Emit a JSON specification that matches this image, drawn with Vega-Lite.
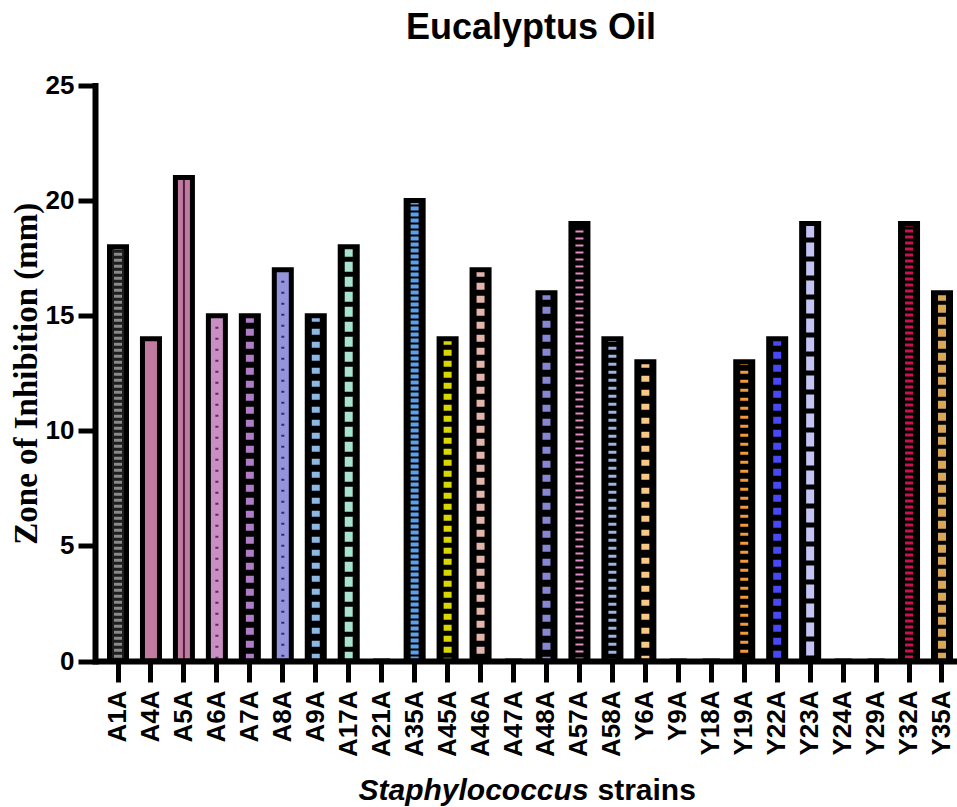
{
  "$schema": "https://vega.github.io/schema/vega-lite/v6.json",
  "autosize": {"type": "none"},
  "width": 862,
  "height": 575.5,
  "padding": {"left": 95, "top": 85.5, "right": 0, "bottom": 146},
  "background": "white",
  "title": {
    "text": "Eucalyptus Oil",
    "font": "Liberation Sans",
    "fontSize": 36,
    "fontWeight": "bold",
    "color": "black",
    "anchor": "middle",
    "frame": "group",
    "baseline": "alphabetic",
    "offset": -2,
    "dx": 5
  },
  "config": {
    "view": {"stroke": null},
    "axis": {"grid": false}
  },
  "data": {
    "values": [
      {"strain": "A1A", "zone": 18},
      {"strain": "A4A", "zone": 14},
      {"strain": "A5A", "zone": 21},
      {"strain": "A6A", "zone": 15},
      {"strain": "A7A", "zone": 15},
      {"strain": "A8A", "zone": 17},
      {"strain": "A9A", "zone": 15},
      {"strain": "A17A", "zone": 18},
      {"strain": "A21A", "zone": 0},
      {"strain": "A35A", "zone": 20},
      {"strain": "A45A", "zone": 14},
      {"strain": "A46A", "zone": 17},
      {"strain": "A47A", "zone": 0},
      {"strain": "A48A", "zone": 16},
      {"strain": "A57A", "zone": 19},
      {"strain": "A58A", "zone": 14},
      {"strain": "Y6A", "zone": 13},
      {"strain": "Y9A", "zone": 0},
      {"strain": "Y18A", "zone": 0},
      {"strain": "Y19A", "zone": 13},
      {"strain": "Y22A", "zone": 14},
      {"strain": "Y23A", "zone": 19},
      {"strain": "Y24A", "zone": 0},
      {"strain": "Y29A", "zone": 0},
      {"strain": "Y32A", "zone": 19},
      {"strain": "Y35A", "zone": 16}
    ]
  },
  "encoding": {
    "y": {
      "field": "zone",
      "type": "quantitative",
      "scale": {"domain": [0, 25], "nice": false},
      "axis": {
        "title": "Zone of Inhibition (mm)",
        "titleFont": "Liberation Serif",
        "titleFontSize": 33,
        "titleFontWeight": "bold",
        "titleColor": "black",
        "titlePadding": 2,
        "values": [0, 5, 10, 15, 20, 25],
        "labelFont": "Liberation Sans",
        "labelFontSize": 26,
        "labelFontWeight": "bold",
        "labelColor": "black",
        "labelPadding": 4,
        "domainColor": "black",
        "domainWidth": 6,
        "domainCap": "square",
        "tickColor": "black",
        "tickWidth": 5,
        "tickSize": 17,
        "zindex": 1
      }
    }
  },
  "layer": [
    {
      "mark": {"type": "bar", "strokeWidth": 0},
      "encoding": {
        "x": {
          "field": "strain",
          "type": "nominal",
          "sort": null,
          "scale": {"range": [0, 870], "paddingInner": 0.484, "paddingOuter": 0.44},
          "axis": {
            "orient": "bottom",
            "title": "Staphylococcus",
            "titleFont": "Liberation Sans",
            "titleFontSize": 30,
            "titleFontWeight": "bold",
            "titleFontStyle": "italic",
            "titleColor": "black",
            "titleAlign": "left",
            "titleBaseline": "alphabetic",
            "titleX": 263,
            "titleY": 138,
            "labelAngle": -90,
            "labelFont": "Liberation Sans",
            "labelFontSize": 26,
            "labelFontWeight": "bold",
            "labelColor": "black",
            "labelPadding": 8,
            "domainColor": "black",
            "domainWidth": 6,
            "tickColor": "black",
            "tickWidth": 5,
            "tickSize": 21,
            "zindex": 1
          }
        },
        "fill": {
          "field": "strain",
          "type": "nominal",
          "legend": null,
          "scale": {
            "domain": ["A1A", "A4A", "A5A", "A6A", "A7A", "A8A", "A9A", "A17A", "A21A", "A35A", "A45A", "A46A", "A47A", "A48A", "A57A", "A58A", "Y6A", "Y9A", "Y18A", "Y19A", "Y22A", "Y23A", "Y24A", "Y29A", "Y32A", "Y35A"],
            "range": ["#1e1e1e", "#c27ba0", "#c27ba0", "#c98ec4", "#000000", "#9494dc", "#000000", "#000000", "#ffffff", "#000000", "#000000", "#000000", "#ffffff", "#000000", "#000000", "#000000", "#000000", "#ffffff", "#ffffff", "#000000", "#000000", "#000000", "#ffffff", "#ffffff", "#000000", "#000000"]
          }
        }
      }
    },
    {
      "mark": {"type": "rule"},
      "encoding": {
        "x": {"field": "strain", "type": "nominal", "sort": null, "axis": null},
        "y2": {"datum": 0},
        "stroke": {
          "field": "strain",
          "type": "nominal",
          "legend": null,
          "scale": {
            "domain": ["A1A", "A4A", "A5A", "A6A", "A7A", "A8A", "A9A", "A17A", "A21A", "A35A", "A45A", "A46A", "A47A", "A48A", "A57A", "A58A", "Y6A", "Y9A", "Y18A", "Y19A", "Y22A", "Y23A", "Y24A", "Y29A", "Y32A", "Y35A"],
            "range": ["#8a8a8a", "#c27ba0", "#4a1e3c", "#5e2a58", "#b07cc6", "#2e2e70", "#8cb8e4", "#a8e2d0", "#ffffff", "#5aa0ea", "#d8d800", "#e2b4aa", "#ffffff", "#8686d4", "#e48cc8", "#9ab4e4", "#f8c888", "#ffffff", "#ffffff", "#f49a3a", "#4848f4", "#c4c4f4", "#ffffff", "#ffffff", "#cc1050", "#d8a858"]
          }
        },
        "size": {
          "field": "strain",
          "type": "nominal",
          "legend": null,
          "scale": {
            "type": "ordinal",
            "domain": ["A1A", "A4A", "A5A", "A6A", "A7A", "A8A", "A9A", "A17A", "A21A", "A35A", "A45A", "A46A", "A47A", "A48A", "A57A", "A58A", "Y6A", "Y9A", "Y18A", "Y19A", "Y22A", "Y23A", "Y24A", "Y29A", "Y32A", "Y35A"],
            "range": [8, 8, 2, 3, 8, 3, 8, 8, 8, 8, 8, 8, 8, 8, 8, 8, 8, 8, 8, 8, 8, 8, 8, 8, 8, 8]
          }
        },
        "strokeDash": {
          "field": "strain",
          "type": "nominal",
          "legend": null,
          "scale": {
            "domain": ["A1A", "A4A", "A5A", "A6A", "A7A", "A8A", "A9A", "A17A", "A21A", "A35A", "A45A", "A46A", "A47A", "A48A", "A57A", "A58A", "Y6A", "Y9A", "Y18A", "Y19A", "Y22A", "Y23A", "Y24A", "Y29A", "Y32A", "Y35A"],
            "range": [[3, 3], [1, 0], [1, 0], [2, 9], [7, 6], [2, 9], [6, 7], [10, 5], [1, 0], [4, 2], [6, 5], [7, 6], [1, 0], [7, 7], [2, 5], [3, 5], [6, 8], [1, 0], [1, 0], [3, 6], [7, 6], [14, 5], [1, 0], [1, 0], [3, 3], [8, 4]]
          }
        }
      }
    },
    {
      "mark": {"type": "bar", "fillOpacity": 0, "stroke": "black", "strokeWidth": 5},
      "encoding": {
        "x": {"field": "strain", "type": "nominal", "sort": null, "axis": null}
      }
    },
    {
      "mark": {"type": "bar", "opacity": 0},
      "encoding": {
        "x": {
          "field": "strain",
          "type": "nominal",
          "sort": null,
          "axis": {
            "orient": "top",
            "title": "strains",
            "titleFont": "Liberation Sans",
            "titleFontSize": 30,
            "titleFontWeight": "bold",
            "titleColor": "black",
            "titleAlign": "left",
            "titleBaseline": "alphabetic",
            "titleX": 502,
            "titleY": 713.5,
            "labels": false,
            "ticks": false,
            "domain": false
          }
        }
      }
    }
  ],
  "resolve": {"axis": {"x": "independent"}}
}
